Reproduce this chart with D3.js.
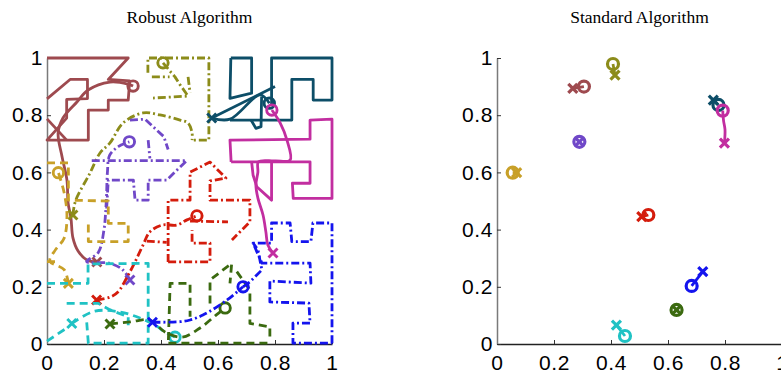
<!DOCTYPE html>
<html><head><meta charset="utf-8">
<script src="https://cdn.jsdelivr.net/npm/d3@7"></script>
<style>body{margin:0;background:#fff}svg{display:block}</style>
</head><body>
<script>
// ---------- DATA (unit-square coordinates) ----------
const tickValues = [0, 0.2, 0.4, 0.6, 0.8, 1];
const titles = ["Robust Algorithm", "Standard Algorithm"];

// brown (solid)
const brownRegion1 = [[0,1],[0.285,1],[0.215,0.925],[0.29,0.92],[0.285,0.853],[0.215,0.853],[0.215,0.818],[0.145,0.818],[0.145,0.713],[0,0.713],[0.069,0.79],[0.069,0.855],[0.142,0.858],[0.142,0.925],[0.081,0.925],[0,0.857]];
const brownRegion2 = [[0,0.787],[0.069,0.713]];
const brownPath = [[0.175,0.287],[0.14,0.294],[0.109,0.325],[0.091,0.371],[0.084,0.441],[0.074,0.493],[0.07,0.573],[0.053,0.654],[0.039,0.738],[0.056,0.79],[0.105,0.846],[0.144,0.888],[0.221,0.916],[0.284,0.909],[0.302,0.902]];
const brownStd = [[0.266,0.894],[0.305,0.90]];

// olive (dash-dot)
const oliveRegion1 = [[0.354,0.948],[0.354,1.0],[0.568,1.0],[0.568,0.713],[0.509,0.713]];
const oliveRegion2 = [[0.407,0.983],[0.435,0.95],[0.449,0.934],[0.467,0.906],[0.495,0.867],[0.372,0.86]];
const oliveRegion3 = [[0.368,0.934],[0.43,0.934]];
const oliveRegion4 = [[0.495,0.934],[0.502,0.878]];
const olivePath = [[0.091,0.451],[0.1,0.5],[0.151,0.598],[0.186,0.668],[0.221,0.703],[0.267,0.773],[0.337,0.808],[0.396,0.801],[0.467,0.783],[0.495,0.773],[0.509,0.738],[0.509,0.713]];
const oliveStd = [[0.414,0.94],[0.407,0.979]];

// dark teal (solid)
const tealRegion1 = [[0.645,1],[0.718,1],[0.718,0.877],[0.642,0.859],[0.645,1]];
const tealRegion2 = [[0.788,0.832],[0.788,1],[1,1],[1,0.853],[0.934,0.853],[0.934,0.925],[0.859,0.925],[0.859,0.783],[0.642,0.783]];
const tealRegion3 = [[0.578,0.79],[0.8,0.9]];
const tealRegion4 = [[0.716,0.783],[0.733,0.754],[0.751,0.76],[0.753,0.864]];
const tealPath = [[0.578,0.79],[0.642,0.786],[0.747,0.871],[0.78,0.842]];
const tealStd = [[0.759,0.853],[0.777,0.836]];

// magenta (solid)
const magRegion1 = [[0.646,0.637],[0.642,0.713],[0.923,0.716],[0.923,0.783],[1,0.786],[1,0.509],[0.864,0.509],[0.861,0.562],[0.923,0.562],[0.923,0.637],[0.646,0.637]];
const magRegion2 = [[0.718,0.637],[0.723,0.591],[0.736,0.55],[0.788,0.503],[0.788,0.637]];
const magPath = [[0.793,0.318],[0.775,0.346],[0.768,0.392],[0.758,0.451],[0.74,0.51],[0.733,0.556],[0.74,0.601],[0.742,0.637],[0.8,0.64],[0.853,0.643],[0.842,0.713],[0.818,0.773],[0.789,0.818]];
const magStd = [[0.798,0.702],[0.80,0.75],[0.795,0.78],[0.792,0.816]];

// purple (dash-dot)
const purpleRegion1 = [[0.157,0.641],[0.49,0.641],[0.42,0.573],[0.355,0.573],[0.355,0.503],[0.309,0.503],[0.303,0.573],[0.215,0.573],[0.209,0.469]];
const purpleRegion2 = [[0.291,0.783],[0.344,0.786],[0.41,0.725],[0.425,0.68]];
const purpleRegion3 = [[0.355,0.713],[0.361,0.649]];
const purplePath = [[0.291,0.224],[0.265,0.26],[0.221,0.282],[0.139,0.288],[0.18,0.32],[0.2,0.40],[0.205,0.45],[0.209,0.52],[0.212,0.6],[0.22,0.66],[0.25,0.69],[0.289,0.707]];
const purpleStd = [[0.289,0.707],[0.289,0.707]];

// gold (dashed)
const goldRegion1 = [[0,0.633],[0.075,0.633],[0.075,0.503],[0.215,0.5],[0.215,0.422],[0.285,0.422],[0.285,0.358],[0.145,0.358],[0.145,0.422]];
const goldRegion2 = [[0,0.288],[0.03,0.288]];
const goldPath = [[0.075,0.212],[0.06,0.26],[0.01,0.29],[0.03,0.33],[0.06,0.37],[0.07,0.45],[0.06,0.53],[0.04,0.599]];
const goldStd = [[0.069,0.599],[0.055,0.599]];

// red (dash-dot)
const redRegion1 = [[0.425,0.287],[0.425,0.503],[0.502,0.503],[0.502,0.601],[0.572,0.636],[0.628,0.58],[0.572,0.57],[0.572,0.503],[0.712,0.503],[0.712,0.427],[0.649,0.364]];
const redRegion2 = [[0.425,0.287],[0.572,0.287],[0.572,0.353],[0.509,0.353],[0.509,0.399]];
const redRegion3 = [[0.502,0.43],[0.635,0.427]];
const redRegion4 = [[0.35,0.36],[0.42,0.355]];
const redPath = [[0.174,0.154],[0.221,0.164],[0.249,0.182],[0.281,0.234],[0.309,0.287],[0.337,0.346],[0.361,0.392],[0.404,0.416],[0.456,0.416],[0.491,0.434],[0.526,0.448]];
const redStd = [[0.508,0.445],[0.531,0.451]];

// cyan (dashed)
const cyanRegion1 = [[0,0.212],[0.144,0.212],[0.144,0.28],[0.355,0.282],[0.355,0.003],[0.145,0.003],[0.139,0.08]];
const cyanRegion2 = [[0,0.01],[0.074,0.059]];
const cyanRegion3 = [[0.069,0.142],[0.18,0.142],[0.22,0.12],[0.285,0.095],[0.285,0.06]];
const cyanPath = [[0.087,0.072],[0.168,0.115],[0.256,0.112],[0.326,0.091],[0.379,0.066],[0.414,0.042],[0.449,0.024]];
const cyanStd = [[0.419,0.066],[0.449,0.028]];

// dark green (dashed)
const greenRegion1 = [[0.426,0.014],[0.432,0.212],[0.502,0.212],[0.502,0.095]];
const greenRegion2 = [[0.572,0.142],[0.572,0.224],[0.648,0.282],[0.642,0.212]];
const greenRegion3 = [[0.666,0.253],[0.712,0.189],[0.712,0.072],[0.782,0.06],[0.782,0.014]];
const greenRegion4 = [[0.426,0.003],[0.782,0.003]];
const greenPath = [[0.221,0.07],[0.291,0.077],[0.361,0.084],[0.414,0.042],[0.474,0.024],[0.537,0.056],[0.593,0.101],[0.625,0.126]];
const greenStd = [[0.63,0.119],[0.63,0.119]];

// blue (dash-dot)
const blueRegion1 = [[1,0.003],[1,0.423],[0.933,0.423],[0.926,0.358],[0.859,0.358],[0.853,0.423],[0.788,0.423],[0.788,0.353],[0.723,0.353],[0.754,0.283],[0.923,0.283],[0.926,0.213],[0.782,0.22],[0.782,0.147],[0.919,0.143],[0.923,0.073],[0.863,0.073],[0.863,0.003],[1,0.003]];
const blueRegion2 = [[0.688,0.2],[0.712,0.217],[0.754,0.259],[0.74,0.33],[0.723,0.353]];
const bluePath = [[0.37,0.076],[0.467,0.078],[0.502,0.084],[0.547,0.101],[0.632,0.154],[0.688,0.2]];
const blueStd = [[0.722,0.253],[0.683,0.203]];

// ---------- agents table ----------
const SOLID = null, DASH = "8,5", DASHDOT = "8,3,2,3";
const agents = [
  {color:"#9E4A4F", dash:SOLID,   regions:[brownRegion1,brownRegion2], path:brownPath, std:brownStd},
  {color:"#8C8C1A", dash:DASHDOT, regions:[oliveRegion1,oliveRegion2,oliveRegion3,oliveRegion4], path:olivePath, std:oliveStd, endAt:[0.407,0.983]},
  {color:"#0D4E68", dash:SOLID,   regions:[tealRegion1,tealRegion2,tealRegion3,tealRegion4], path:tealPath, std:tealStd},
  {color:"#C22EA0", dash:SOLID,   regions:[magRegion1,magRegion2], path:magPath, std:magStd},
  {color:"#7048C8", dash:DASHDOT, regions:[purpleRegion1,purpleRegion2,purpleRegion3], path:purplePath, std:purpleStd},
  {color:"#C8A028", dash:DASH,    regions:[goldRegion1,goldRegion2], path:goldPath, std:goldStd},
  {color:"#D41C0C", dash:DASHDOT, regions:[redRegion1,redRegion2,redRegion3,redRegion4], path:redPath, std:redStd},
  {color:"#20C2C4", dash:DASH,    regions:[cyanRegion1,cyanRegion2,cyanRegion3], path:cyanPath, std:cyanStd},
  {color:"#3B6A10", dash:DASH,    regions:[greenRegion1,greenRegion2,greenRegion3,greenRegion4], path:greenPath, std:greenStd},
  {color:"#1414EE", dash:DASHDOT, regions:[blueRegion1,blueRegion2], path:bluePath, std:blueStd}
];

// ---------- drawing ----------
const W = 781, H = 375;
const svg = d3.select("body").append("svg").attr("width", W).attr("height", H);

const yS = d3.scaleLinear().domain([0,1]).range([344,58]);
const xL = d3.scaleLinear().domain([0,1]).range([47,332]);
const xR = d3.scaleLinear().domain([0,1]).range([497,782]);
const fmt = d => String(+d.toFixed(1));

function drawAxes(x, title) {
  const g = svg.append("g");
  const ax = g.append("g").attr("transform", `translate(0,${yS(0)})`)
    .call(d3.axisBottom(x).tickValues(tickValues).tickFormat(fmt).tickSizeInner(-4).tickSizeOuter(0).tickPadding(11));
  const ay = g.append("g").attr("transform", `translate(${x(0)},0)`)
    .call(d3.axisLeft(yS).tickValues(tickValues).tickFormat(fmt).tickSizeInner(-4).tickSizeOuter(0).tickPadding(4));
  [ax, ay].forEach(a => {
    a.selectAll("text").attr("font-family", "Liberation Sans, Arial, sans-serif").attr("font-size", 21)
      .attr("letter-spacing", 0.6).attr("fill", "#000");
    a.selectAll(".tick line").attr("stroke", "#333").attr("stroke-width", 1);
  });
  ax.select(".domain").attr("stroke", "#222").attr("stroke-width", 1.5);
  ay.select(".domain").attr("stroke", "#7a7a7a").attr("stroke-width", 1.5);
  svg.append("text").attr("x", (x(0)+x(1))/2).attr("y", 23).attr("text-anchor", "middle")
    .attr("font-family", "Liberation Serif, Times New Roman, serif").attr("font-size", 17.5).text(title);
}
drawAxes(xL, titles[0]);
drawAxes(xR, titles[1]);

const crossPath = s => `M${-s},${-s}L${s},${s}M${-s},${s}L${s},${-s}`;

function drawMarkers(g, x, start, end, r, sw, cs) {
  g.append("path").attr("d", crossPath(cs)).attr("transform", `translate(${x(start[0])},${yS(start[1])})`)
    .attr("stroke", g.attr("data-c")).attr("stroke-width", sw).attr("fill", "none");
  g.append("circle").attr("cx", x(end[0])).attr("cy", yS(end[1])).attr("r", r)
    .attr("stroke", g.attr("data-c")).attr("stroke-width", sw).attr("fill", "none");
}

// left: robust
const lineL = d3.line().x(d => xL(d[0])).y(d => yS(d[1]));
const lineLc = d3.line().x(d => xL(d[0])).y(d => yS(d[1])).curve(d3.curveCatmullRom.alpha(0.5));
agents.forEach(a => {
  const g = svg.append("g").attr("data-c", a.color);
  a.regions.forEach(r => g.append("path").attr("d", lineL(r)).attr("fill", "none")
    .attr("stroke", a.color).attr("stroke-width", 2.8).attr("stroke-dasharray", a.dash).attr("stroke-linejoin", "round"));
  g.append("path").attr("d", lineLc(a.path)).attr("fill", "none")
    .attr("stroke", a.color).attr("stroke-width", 2.8).attr("stroke-dasharray", a.dash);
  const end = a.endAt || a.path[a.path.length-1];
  drawMarkers(g, xL, a.path[0], end, 5.2, 2.9, 4.5);
});

// right: standard
const lineR = d3.line().x(d => xR(d[0])).y(d => yS(d[1])).curve(d3.curveCatmullRom.alpha(0.5));
agents.forEach(a => {
  const g = svg.append("g").attr("data-c", a.color);
  g.append("path").attr("d", lineR(a.std)).attr("fill", "none")
    .attr("stroke", a.color).attr("stroke-width", 2.8);
  drawMarkers(g, xR, a.std[0], a.std[a.std.length-1], 5.5, 3.2, 4.5);
});
</script>
</body></html>
